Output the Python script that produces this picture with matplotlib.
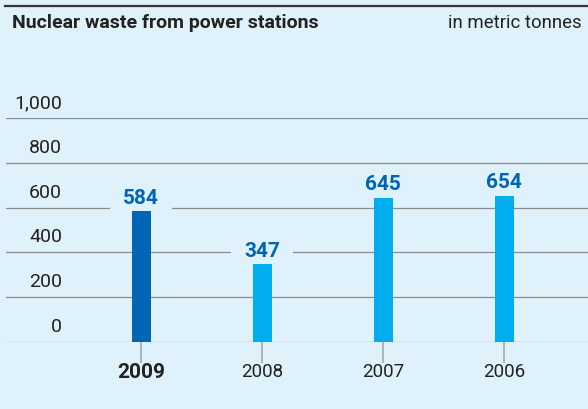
import matplotlib
matplotlib.use("Agg")
import matplotlib.pyplot as plt
from matplotlib.patches import Rectangle

# Nuclear waste from power stations, in metric tonnes
years = ["2009", "2008", "2007", "2006"]
waste = [584, 347, 645, 654]
y_ticks = [0, 200, 400, 600, 800, 1000]
y_tick_labels = ["0", "200", "400", "600", "800", "1,000"]

BG = "#dff1fb"
DARK_BLUE = "#0066b3"
LIGHT_BLUE = "#00aeef"
GRID = "#8c8c8c"
TEXT = "#222222"
FONT = ["Roboto", "DejaVu Sans"]

W, H = 588, 409
fig = plt.figure(figsize=(W / 100, H / 100), dpi=100, facecolor=BG)

# axes placed in pixel coordinates: x 6..588, y 118 (1000) .. 342 (0)
left, right, top, bottom = 6, 588, 118, 342
ax = fig.add_axes([left / W, 1 - bottom / H, (right - left) / W, (bottom - top) / H])
ax.set_facecolor(BG)
for s in ax.spines.values():
    s.set_visible(False)

x = list(range(len(years)))
px_x = 121.0                      # pixels per category step
px_y = (bottom - top) / 1000.0    # pixels per tonne
x0_px = 141.0
ax.set_xlim((left - x0_px) / px_x, (right - x0_px) / px_x)
ax.set_ylim(0, 1000)

# horizontal grid lines
for yv in y_ticks:
    ax.axhline(yv, color=GRID, lw=0.9, zorder=1)

# tick labels sit above their grid lines, right aligned
for yv, lab in zip(y_ticks, y_tick_labels):
    ax.text((62 - x0_px) / px_x, yv + 15 / px_y, lab, ha="right", va="center",
            fontsize=14, color=TEXT, family=FONT, zorder=3)

bar_w = 19 / px_x
colors = [DARK_BLUE] + [LIGHT_BLUE] * (len(years) - 1)
ax.bar(x, waste, width=bar_w, color=colors, zorder=3)

for xi, v in zip(x, waste):
    # background patch that breaks the grid lines around each value label
    ax.add_patch(Rectangle((xi - 31 / px_x, v), 62 / px_x, 28 / px_y,
                           facecolor=BG, edgecolor="none", zorder=2))
    ax.text(xi, v + 13 / px_y, str(v), ha="center", va="center", fontsize=15,
            fontweight="bold", color=DARK_BLUE, family=FONT, zorder=4)

# tick marks below the baseline and year labels
ax.set_xticks(x)
ax.set_xticklabels([])
ax.tick_params(axis="x", length=15, width=1.2, color="#a8a8a8", direction="out")
ax.set_yticks([])
for xi, yr in enumerate(years):
    bold = xi == 0
    ax.text(xi, -30 / px_y, yr, ha="center", va="center",
            fontsize=15 if bold else 13.5,
            fontweight="bold" if bold else "normal", color=TEXT,
            family=FONT, clip_on=False)

# header rule and titles
fig.add_artist(plt.Line2D([5 / W, 1], [1 - 6 / H, 1 - 6 / H], color="#333333", lw=1.6))
fig.text(12 / W, 1 - 23 / H, "Nuclear waste from power stations", ha="left", va="center",
         fontsize=14, fontweight="bold", color=TEXT, family=FONT)
fig.text(582 / W, 1 - 23 / H, "in metric tonnes", ha="right", va="center",
         fontsize=13.4, color=TEXT, family=FONT)

fig.savefig("out.png", dpi=100, facecolor=BG)
